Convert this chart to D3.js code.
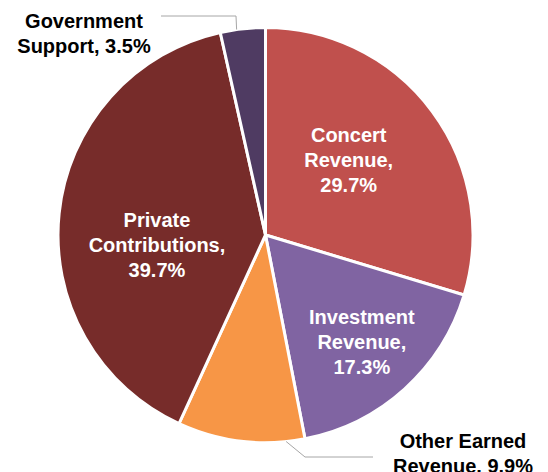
<!DOCTYPE html>
<html>
<head>
<meta charset="utf-8">
<script src="https://cdn.jsdelivr.net/npm/d3@7"></script>
<style>
  html, body { margin: 0; padding: 0; background: #fff; }
  svg { display: block; font-family: "Liberation Sans", Arial, Helvetica, sans-serif; }
</style>
</head>
<body>
<svg id="chart"></svg>
<script>
// data, clockwise from 12 o'clock
var categories = ["Concert Revenue", "Investment Revenue", "Other Earned Revenue", "Private Contributions", "Government Support"];
var shares = [29.7, 17.3, 9.9, 39.7, 3.5];
var labelLines = [
	["Concert", "Revenue,", "29.7%"],
	["Investment", "Revenue,", "17.3%"],
	["Other Earned", "Revenue, 9.9%"],
	["Private", "Contributions,", "39.7%"],
	["Government", "Support, 3.5%"]
];
var sliceColors = ["#C0504D", "#8064A2", "#F79646", "#772C2A", "#4F3B62"];

var width = 548,
	height = 472,
	cx = 265.5,
	cy = 235,
	radius = 207.5,
	lineH = 24.7;

// label placement (angle in degrees from top, radius) for inside labels,
// explicit anchors for the outside ones with leader lines
var insideLabel = {
	0: { angle: 48, r: 112 },
	1: { angle: 138, r: 144 },
	3: { angle: 264.7, r: 109 }
};
var outsideLabel = {
	2: { x: 463, y: 448, leaderAngle: 174.3, elbow: [305, 457], end: 373 },
	4: { x: 84, y: 28, leaderAngle: 352, elbow: [236, 16], end: 161 }
};

var data = categories.map(function(c, i) {
	return { name: c, value: shares[i], color: sliceColors[i], lines: labelLines[i], id: i };
});

var svg = d3.select("#chart")
	.attr("width", width)
	.attr("height", height);

var pie = d3.pie()
	.sort(null)
	.value(function(d) { return d.value; });

var arc = d3.arc()
	.innerRadius(0)
	.outerRadius(radius);

var g = svg.append("g")
	.attr("transform", "translate(" + cx + "," + cy + ")");

g.selectAll("path.slice")
	.data(pie(data))
	.enter().append("path")
	.attr("class", "slice")
	.attr("d", arc)
	.style("fill", function(d) { return d.data.color; })
	.style("stroke", "#fff")
	.style("stroke-width", 3)
	.style("stroke-linejoin", "miter");

function polar(angleDeg, r) {
	var a = angleDeg * Math.PI / 180;
	return [r * Math.sin(a), -r * Math.cos(a)];
}

// inside labels
data.forEach(function(d, i) {
	var p = insideLabel[i];
	if (!p) return;
	var pos = polar(p.angle, p.r);
	var n = d.lines.length;
	var t = g.append("text")
		.attr("text-anchor", "middle")
		.style("font-size", "20px")
		.style("font-weight", "bold")
		.style("fill", "#fff");
	d.lines.forEach(function(line, j) {
		t.append("tspan")
			.attr("x", pos[0])
			.attr("y", pos[1] + (j - (n - 1) / 2) * lineH + 7)
			.text(line);
	});
});

// outside labels with leader lines
data.forEach(function(d, i) {
	var p = outsideLabel[i];
	if (!p) return;
	var start = polar(p.leaderAngle, radius);
	svg.append("polyline")
		.attr("points", [
			[cx + start[0], cy + start[1]],
			p.elbow,
			[p.end, p.elbow[1]]
		].map(function(q) { return q.join(","); }).join(" "))
		.style("fill", "none")
		.style("stroke", "#A6A6A6")
		.style("stroke-width", 1);

	var t = svg.append("text")
		.attr("text-anchor", "middle")
		.style("font-size", "20px")
		.style("font-weight", "bold")
		.style("fill", "#000");
	d.lines.forEach(function(line, j) {
		t.append("tspan")
			.attr("x", p.x)
			.attr("y", p.y + j * lineH)
			.text(line);
	});
});
</script>
</body>
</html>
